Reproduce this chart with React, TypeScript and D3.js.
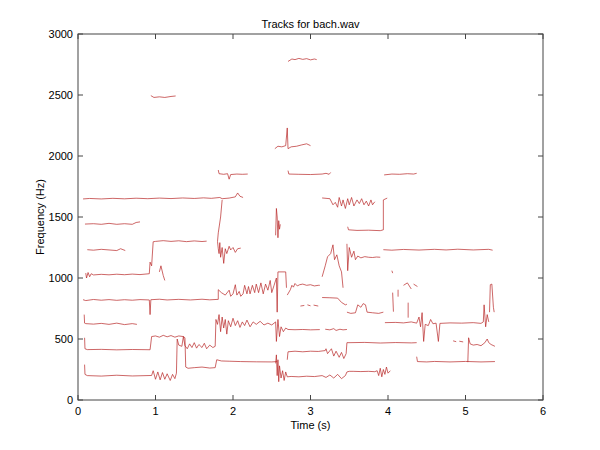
import { line as d3Line, scaleLinear } from "d3";

type Pt = [number, number];

// sinusoidal tracks, [time s, freq Hz]
const trk2790: Pt[] = [[2.71, 2775], [2.76, 2795], [2.8, 2790], [2.85, 2800], [2.9, 2792], [2.95, 2798], [3.0, 2788], [3.05, 2795], [3.08, 2790]];
const trk2490: Pt[] = [[0.94, 2495], [0.98, 2480], [1.05, 2485], [1.12, 2480], [1.2, 2488], [1.26, 2492]];
const trk2080: Pt[] = [[2.54, 2060], [2.58, 2080], [2.63, 2075], [2.68, 2085], [2.7, 2230], [2.71, 2060], [2.75, 2075], [2.82, 2080], [2.88, 2090], [2.95, 2100], [3.0, 2085]];
const trk1850a: Pt[] = [[1.81, 1885], [1.82, 1855], [1.88, 1850], [1.93, 1855], [1.95, 1810], [1.97, 1848], [2.05, 1852], [2.12, 1850], [2.19, 1852]];
const trk1850b: Pt[] = [[2.71, 1880], [2.72, 1852], [2.85, 1850], [3.0, 1848], [3.15, 1852], [3.2, 1858], [3.24, 1850], [3.26, 1865]];
const trk1850c: Pt[] = [[3.95, 1845], [4.05, 1852], [4.15, 1850], [4.25, 1855], [4.33, 1852], [4.37, 1858]];
const trk1650: Pt[] = [[0.065, 1648], [0.15, 1652], [0.3, 1648], [0.45, 1653], [0.6, 1649], [0.75, 1654], [0.9, 1650], [1.05, 1655], [1.2, 1651], [1.35, 1656], [1.5, 1652], [1.62, 1657], [1.72, 1653], [1.83, 1660], [1.86, 1650], [1.95, 1655], [2.03, 1665], [2.06, 1697], [2.09, 1670], [2.13, 1660]];
const trkDrop: Pt[] = [[1.86, 1640], [1.84, 1500], [1.81, 1370], [1.8, 1300], [1.81, 1240], [1.82, 1200], [1.83, 1290], [1.84, 1170], [1.86, 1250], [1.88, 1120], [1.9, 1240], [1.92, 1200], [1.95, 1260], [1.97, 1230], [2.0, 1250], [2.03, 1210], [2.06, 1240], [2.1, 1245]];
const trkSpike: Pt[] = [[2.55, 1350], [2.56, 1570], [2.57, 1500], [2.58, 1330], [2.59, 1470], [2.6, 1400], [2.61, 1440]];
const trk1620: Pt[] = [[3.15, 1656], [3.25, 1650], [3.29, 1600], [3.32, 1620], [3.35, 1580], [3.37, 1660], [3.4, 1590], [3.42, 1640], [3.45, 1570], [3.48, 1650], [3.5, 1600], [3.53, 1660], [3.56, 1590], [3.6, 1640], [3.63, 1610], [3.66, 1650], [3.69, 1600], [3.72, 1630], [3.75, 1590], [3.78, 1640], [3.8, 1600], [3.83, 1625]];
const trk1390: Pt[] = [[3.48, 1420], [3.49, 1395], [3.6, 1390], [3.75, 1392], [3.9, 1388], [3.94, 1395], [3.94, 1640], [3.99, 1655]];
const trk1440: Pt[] = [[0.09, 1442], [0.2, 1445], [0.3, 1440], [0.4, 1448], [0.5, 1440], [0.6, 1445], [0.7, 1440], [0.75, 1455], [0.8, 1460]];
const trk1230a: Pt[] = [[0.12, 1232], [0.2, 1228], [0.3, 1235], [0.4, 1230], [0.5, 1225], [0.55, 1240], [0.61, 1225]];
const trk1020: Pt[] = [[0.1, 1040], [0.11, 1000], [0.13, 1045], [0.15, 1010], [0.17, 1035], [0.2, 1025], [0.3, 1030], [0.4, 1026], [0.5, 1031], [0.6, 1027], [0.7, 1032], [0.8, 1028], [0.92, 1035], [0.93, 1130], [0.95, 1100], [0.97, 1297], [1.0, 1300], [1.1, 1306], [1.2, 1300], [1.3, 1305], [1.4, 1298], [1.5, 1304], [1.6, 1299], [1.66, 1302]];
const trkFrag: Pt[] = [[1.05, 1050], [1.07, 1100], [1.1, 1020], [1.12, 980]];
const trk1230b: Pt[] = [[3.94, 1232], [4.05, 1228], [4.2, 1234], [4.4, 1229], [4.6, 1235], [4.75, 1230], [4.9, 1236], [5.1, 1230], [5.3, 1235], [5.35, 1228]];
const trk1170: Pt[] = [[3.47, 1280], [3.48, 1060], [3.5, 1250], [3.53, 1170], [3.56, 1220], [3.58, 1150], [3.61, 1180], [3.65, 1165], [3.7, 1175], [3.75, 1170], [3.8, 1168], [3.85, 1172], [3.9, 1170]];
const trkRise: Pt[] = [[3.15, 1010], [3.19, 1100], [3.22, 1174], [3.26, 1200], [3.29, 1272], [3.31, 1150], [3.34, 1190], [3.37, 1100], [3.4, 1050], [3.42, 920]];
const trk820: Pt[] = [[0.065, 822], [0.1, 815], [0.2, 824], [0.3, 818], [0.4, 823], [0.5, 817], [0.6, 822], [0.7, 818], [0.8, 823], [0.92, 820], [0.93, 700], [0.94, 822], [1.05, 826], [1.15, 820], [1.3, 825], [1.45, 820], [1.6, 826], [1.7, 821], [1.81, 825], [1.81, 904], [1.85, 880], [1.9, 860], [1.95, 900], [1.97, 850], [2.0, 870], [2.03, 945], [2.05, 860], [2.08, 890], [2.1, 850], [2.13, 870], [2.15, 940], [2.18, 870], [2.2, 930], [2.22, 870], [2.25, 940], [2.28, 880], [2.3, 950], [2.33, 880], [2.36, 960], [2.39, 870], [2.42, 950], [2.45, 900], [2.48, 980], [2.5, 880], [2.53, 940], [2.56, 1000], [2.57, 720], [2.58, 1050], [2.68, 1050], [2.69, 920]];
const trk940: Pt[] = [[2.7, 860], [2.74, 904], [2.76, 940], [2.78, 925], [2.8, 955], [2.83, 935], [2.86, 945], [2.9, 950], [2.95, 940], [3.0, 945], [3.05, 935], [3.1, 940], [3.12, 940]];
const trk838: Pt[] = [[3.15, 840], [3.25, 838], [3.35, 835], [3.4, 800], [3.45, 780], [3.47, 785]];
const trk715: Pt[] = [[3.47, 720], [3.52, 710], [3.58, 715], [3.61, 780], [3.65, 760], [3.68, 790], [3.71, 780], [3.73, 720], [3.8, 715], [3.88, 710], [3.94, 720]];
const trk775a: Pt[] = [[2.87, 770], [2.92, 775]];
const trk775b: Pt[] = [[2.96, 780], [3.0, 772]];
const trk775c: Pt[] = [[3.04, 778], [3.1, 770]];
const trk620: Pt[] = [[0.08, 700], [0.085, 630], [0.1, 626], [0.2, 622], [0.3, 628], [0.4, 620], [0.5, 630], [0.6, 618], [0.7, 626], [0.76, 620]];
const trk400: Pt[] = [[0.085, 510], [0.09, 420], [0.12, 413], [0.3, 415], [0.5, 411], [0.7, 414], [0.93, 412], [0.95, 520], [1.0, 525], [1.05, 515], [1.1, 530], [1.15, 518], [1.2, 528], [1.25, 515], [1.3, 525], [1.36, 520], [1.38, 510], [1.39, 270], [1.42, 260], [1.5, 265], [1.6, 270], [1.7, 262], [1.77, 265], [1.79, 330], [1.85, 320], [1.95, 318], [2.1, 315], [2.3, 313], [2.5, 312], [2.57, 315]];
const trk200: Pt[] = [[0.085, 290], [0.09, 210], [0.12, 200], [0.3, 196], [0.5, 203], [0.7, 197], [0.95, 201], [0.97, 240], [1.0, 170], [1.03, 230], [1.06, 165], [1.09, 225], [1.12, 170], [1.15, 215], [1.19, 160], [1.22, 210], [1.25, 175], [1.27, 220], [1.28, 500], [1.3, 450], [1.34, 440], [1.36, 520], [1.38, 445], [1.41, 420], [1.44, 460], [1.47, 430], [1.5, 470], [1.53, 425], [1.56, 455], [1.6, 430], [1.63, 465], [1.66, 420], [1.7, 450], [1.74, 430], [1.77, 440], [1.78, 660], [1.8, 620], [1.82, 700], [1.84, 560], [1.86, 680], [1.88, 590], [1.9, 660], [1.92, 540], [1.94, 650], [1.97, 600], [2.0, 670], [2.03, 610], [2.06, 650], [2.09, 595], [2.12, 640], [2.15, 610], [2.18, 655], [2.22, 600], [2.26, 640], [2.3, 620], [2.35, 645], [2.4, 615], [2.45, 630], [2.5, 615], [2.55, 640], [2.56, 480], [2.58, 660], [2.6, 520], [2.62, 600], [2.65, 560], [2.68, 590], [2.71, 578], [2.8, 576], [2.9, 578], [3.0, 575], [3.12, 577]];
const trk193: Pt[] = [[2.55, 300], [2.56, 370], [2.57, 200], [2.58, 330], [2.59, 150], [2.6, 280], [2.62, 180], [2.64, 240], [2.66, 160], [2.68, 230], [2.7, 190], [2.75, 193], [2.85, 190], [2.95, 195], [3.05, 192], [3.15, 200], [3.2, 185], [3.25, 205], [3.3, 180], [3.35, 210], [3.4, 175], [3.45, 200], [3.47, 230], [3.5, 235], [3.55, 235], [3.65, 233], [3.75, 235], [3.83, 232], [3.86, 240], [3.88, 200], [3.9, 260], [3.92, 190], [3.94, 250], [3.96, 210], [3.98, 270], [4.0, 220], [4.03, 240]];
const trk395: Pt[] = [[2.7, 330], [2.71, 395], [2.8, 400], [2.9, 395], [3.0, 400], [3.1, 398], [3.19, 405], [3.2, 420], [3.22, 380], [3.27, 420], [3.3, 360], [3.33, 400], [3.37, 350], [3.4, 390], [3.43, 340], [3.46, 380], [3.47, 470], [3.51, 470], [3.7, 472], [3.9, 467], [4.1, 471], [4.3, 468], [4.37, 470]];
const trk315: Pt[] = [[4.37, 355], [4.38, 315], [4.5, 312], [4.6, 316], [4.8, 312], [5.0, 316], [5.2, 312], [5.38, 315]];
const trk455: Pt[] = [[5.03, 310], [5.04, 510], [5.06, 460], [5.1, 450], [5.15, 455], [5.2, 445], [5.25, 470], [5.28, 500], [5.3, 470], [5.33, 455], [5.38, 440]];
const trk630: Pt[] = [[3.96, 634], [4.1, 636], [4.2, 632], [4.3, 640], [4.37, 630], [4.4, 680], [4.42, 600], [4.44, 716], [4.46, 480], [4.48, 620], [4.52, 610], [4.55, 660], [4.58, 625], [4.62, 630], [4.65, 480], [4.67, 628], [4.8, 632], [4.95, 630], [5.1, 634], [5.2, 628], [5.23, 640], [5.24, 780], [5.26, 600], [5.28, 700], [5.3, 640]];
const trk950: Pt[] = [[5.31, 720], [5.32, 945], [5.34, 950], [5.36, 760], [5.37, 720]];
const trk575: Pt[] = [[3.19, 580], [3.25, 575], [3.3, 585], [3.33, 570], [3.38, 580], [3.42, 575], [3.47, 578]];
const trk480a: Pt[] = [[4.84, 485], [4.88, 478]];
const trk480b: Pt[] = [[4.92, 482], [4.97, 476]];
const trkDotA: Pt[] = [[4.05, 1060], [4.06, 1040]];
const trkDotB: Pt[] = [[4.06, 880], [4.07, 724]];
const trkDotC: Pt[] = [[4.13, 904], [4.13, 847]];
const trkDotD: Pt[] = [[4.26, 798], [4.26, 675]];
const trkDotE: Pt[] = [[4.2, 940], [4.25, 960], [4.3, 910]];
const trkDotF: Pt[] = [[4.33, 950], [4.38, 930]];

const tracks: Pt[][] = [
  trk2790, trk2490, trk2080, trk1850a, trk1850b, trk1850c, trk1650, trkDrop, trkSpike,
  trk1620, trk1390, trk1440, trk1230a, trk1020, trkFrag, trk1230b, trk1170, trkRise,
  trk820, trk940, trk838, trk715, trk775a, trk775b, trk775c, trk620, trk400, trk200,
  trk193, trk395, trk315, trk455, trk630, trk950, trk575, trk480a, trk480b,
  trkDotA, trkDotB, trkDotC, trkDotD, trkDotE, trkDotF,
];

const xTicks = [0, 1, 2, 3, 4, 5, 6];
const yTicks = [0, 500, 1000, 1500, 2000, 2500, 3000];

const W = 600;
const H = 450;
const M = { left: 78, right: 57, top: 34, bottom: 50 };
const TICK = 5;
const FONT = "Arial, 'Liberation Sans', Helvetica, sans-serif";

export default function App() {
  const x = scaleLinear().domain([0, 6]).range([M.left, W - M.right]);
  const y = scaleLinear().domain([0, 3000]).range([H - M.bottom, M.top]);
  const path = d3Line<Pt>()
    .x((d) => x(d[0]))
    .y((d) => y(d[1]));

  const x0 = x(0);
  const x1 = x(6);
  const y0 = y(0);
  const y1 = y(3000);

  return (
    <svg
      width={W}
      height={H}
      style={{ position: "absolute", left: 0, top: 0, background: "#fff" }}
      fontFamily={FONT}
    >
      <rect x={0} y={0} width={W} height={H} fill="#fff" />
      {tracks.map((t, i) => (
        <path key={i} d={path(t) ?? ""} fill="none" stroke="#b82525" strokeWidth={0.7} strokeLinejoin="round" />
      ))}
      <rect x={x0} y={y1} width={x1 - x0} height={y0 - y1} fill="none" stroke="#444" strokeWidth={1} />
      {xTicks.map((t) => (
        <g key={`x${t}`}>
          <line x1={x(t)} x2={x(t)} y1={y0} y2={y0 - TICK} stroke="#444" />
          <line x1={x(t)} x2={x(t)} y1={y1} y2={y1 + TICK} stroke="#444" />
          <text x={x(t)} y={y0 + 15} textAnchor="middle" fontSize={11} fill="#000">
            {t}
          </text>
        </g>
      ))}
      {yTicks.map((t) => (
        <g key={`y${t}`}>
          <line x1={x0} x2={x0 + TICK} y1={y(t)} y2={y(t)} stroke="#444" />
          <line x1={x1} x2={x1 - TICK} y1={y(t)} y2={y(t)} stroke="#444" />
          <text x={x0 - 5} y={y(t) + 4} textAnchor="end" fontSize={11} fill="#000">
            {t}
          </text>
        </g>
      ))}
      <text x={(x0 + x1) / 2} y={y1 - 6} textAnchor="middle" fontSize={11} fill="#000">
        Tracks for bach.wav
      </text>
      <text x={(x0 + x1) / 2} y={y0 + 29} textAnchor="middle" fontSize={11} fill="#000">
        Time (s)
      </text>
      <text
        transform={`translate(${x0 - 34},${(y0 + y1) / 2}) rotate(-90)`}
        textAnchor="middle"
        fontSize={11}
        fill="#000"
      >
        Frequency (Hz)
      </text>
    </svg>
  );
}
